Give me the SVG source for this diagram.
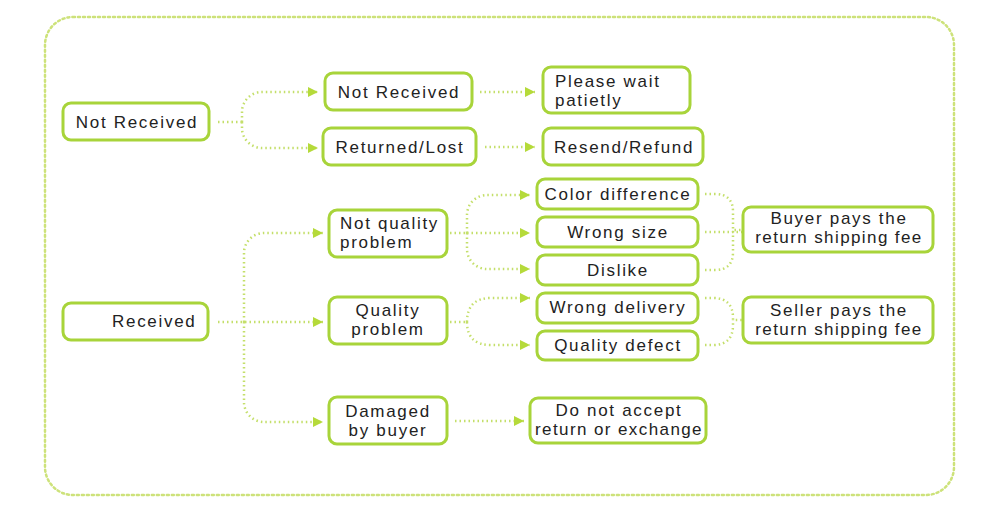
<svg xmlns="http://www.w3.org/2000/svg" width="1000" height="523" viewBox="0 0 1000 523">
  <defs>
    <style>
      .box { fill: #ffffff; stroke: #a8d43a; stroke-width: 3; }
      .frame { fill: none; stroke: #cde27a; stroke-width: 2.5; stroke-dasharray: 2 3; stroke-linecap: round; }
      .conn { fill: none; stroke: #c4df6a; stroke-width: 2.5; stroke-dasharray: 1.5 3; }
      .t { font-family: "Liberation Sans", Arial, sans-serif; font-size: 17px; fill: #222222; letter-spacing: 1.7px; }
      .c { text-anchor: middle; }
    </style>
    <marker id="arr" viewBox="0 0 10 10" refX="10" refY="5" markerWidth="10" markerHeight="10" markerUnits="userSpaceOnUse" orient="auto">
      <path d="M0,0 L10,5 L0,10 z" fill="#b5da3a"/>
    </marker>
  </defs>
  <rect fill="#ffffff" x="0" y="0" width="1000" height="523"/>
  <rect class="frame" x="45" y="17" width="909" height="478" rx="28"/>

  <g id="connectors">
    <path class="conn" d="M218,122 H242"/>
    <path class="conn" d="M242,122 V112 A20,20 0 0 1 262,92 H318" marker-end="url(#arr)"/>
    <path class="conn" d="M242,122 V128 A20,20 0 0 0 262,148 H318" marker-end="url(#arr)"/>
    <path class="conn" d="M480,92 H535" marker-end="url(#arr)"/>
    <path class="conn" d="M485,147 H535" marker-end="url(#arr)"/>

    <path class="conn" d="M218,322 H323" marker-end="url(#arr)"/>
    <path class="conn" d="M244,322 V253 A20,20 0 0 1 264,233 H323" marker-end="url(#arr)"/>
    <path class="conn" d="M244,322 V402 A20,20 0 0 0 264,422 H323" marker-end="url(#arr)"/>

    <path class="conn" d="M450,233 H467"/>
    <path class="conn" d="M467,233 V215 A20,20 0 0 1 487,195 H530" marker-end="url(#arr)"/>
    <path class="conn" d="M467,233 H530" marker-end="url(#arr)"/>
    <path class="conn" d="M467,233 V249 A20,20 0 0 0 487,269 H530" marker-end="url(#arr)"/>

    <path class="conn" d="M450,322 H467"/>
    <path class="conn" d="M467,322 Q467,298 491,298 H530" marker-end="url(#arr)"/>
    <path class="conn" d="M467,322 Q467,345 491,345 H530" marker-end="url(#arr)"/>

    <path class="conn" d="M705,194 H715 Q733,194 733,212 V230 H743"/>
    <path class="conn" d="M705,270 H715 Q733,270 733,252 V230"/>
    <path class="conn" d="M705,232 H743"/>

    <path class="conn" d="M705,298 H713 Q733,298 733,318 V320 H743"/>
    <path class="conn" d="M705,345 H713 Q733,345 733,325 V320"/>

    <path class="conn" d="M455,421 H524" marker-end="url(#arr)"/>
  </g>

  <g id="n-not-received-root">
    <rect class="box" x="63" y="103" width="146" height="37" rx="8"/>
    <text class="t c" x="137" y="128">Not Received</text>
  </g>
  <g id="n-not-received">
    <rect class="box" x="325" y="73" width="147" height="37" rx="8"/>
    <text class="t c" x="399" y="98">Not Received</text>
  </g>
  <g id="n-returned-lost">
    <rect class="box" x="323" y="128" width="153" height="37" rx="8"/>
    <text class="t c" x="400" y="153">Returned/Lost</text>
  </g>
  <g id="n-please-wait">
    <rect class="box" x="543" y="67" width="147" height="46" rx="8"/>
    <text class="t" x="555" y="87">Please wait</text>
    <text class="t" x="555" y="106">patietly</text>
  </g>
  <g id="n-resend-refund">
    <rect class="box" x="543" y="128" width="160" height="37" rx="8"/>
    <text class="t c" x="624" y="153">Resend/Refund</text>
  </g>

  <g id="n-received">
    <rect class="box" x="63" y="303" width="145" height="37" rx="8"/>
    <text class="t" x="112" y="327">Received</text>
  </g>
  <g id="n-not-quality">
    <rect class="box" x="329" y="210" width="118" height="47" rx="8"/>
    <text class="t" x="340" y="229">Not quality</text>
    <text class="t" x="340" y="248">problem</text>
  </g>
  <g id="n-quality">
    <rect class="box" x="329" y="297" width="118" height="47" rx="8"/>
    <text class="t c" x="388" y="316">Quality</text>
    <text class="t c" x="388" y="335">problem</text>
  </g>
  <g id="n-damaged">
    <rect class="box" x="329" y="397" width="118" height="47" rx="8"/>
    <text class="t c" x="388" y="417">Damaged</text>
    <text class="t c" x="388" y="436">by buyer</text>
  </g>

  <g id="n-color-difference">
    <rect class="box" x="537" y="179" width="161" height="30" rx="8"/>
    <text class="t c" x="618" y="200">Color difference</text>
  </g>
  <g id="n-wrong-size">
    <rect class="box" x="537" y="217" width="161" height="30" rx="8"/>
    <text class="t c" x="618" y="238">Wrong size</text>
  </g>
  <g id="n-dislike">
    <rect class="box" x="537" y="255" width="161" height="30" rx="8"/>
    <text class="t c" x="618" y="276">Dislike</text>
  </g>
  <g id="n-wrong-delivery">
    <rect class="box" x="537" y="293" width="161" height="30" rx="8"/>
    <text class="t c" x="618" y="313">Wrong delivery</text>
  </g>
  <g id="n-quality-defect">
    <rect class="box" x="537" y="331" width="161" height="29" rx="8"/>
    <text class="t c" x="618" y="351">Quality defect</text>
  </g>

  <g id="n-buyer-pays">
    <rect class="box" x="743" y="207" width="190" height="45" rx="8"/>
    <text class="t c" x="839" y="224">Buyer pays the</text>
    <text class="t c" x="839" y="243" style="letter-spacing:1.4px">return shipping fee</text>
  </g>
  <g id="n-seller-pays">
    <rect class="box" x="743" y="297" width="190" height="46" rx="8"/>
    <text class="t c" x="839" y="316">Seller pays the</text>
    <text class="t c" x="839" y="335" style="letter-spacing:1.4px">return shipping fee</text>
  </g>
  <g id="n-do-not-accept">
    <rect class="box" x="530" y="398" width="176" height="45" rx="8"/>
    <text class="t c" x="619" y="416">Do not accept</text>
    <text class="t c" x="619" y="435" style="letter-spacing:1.4px">return or exchange</text>
  </g>
</svg>
